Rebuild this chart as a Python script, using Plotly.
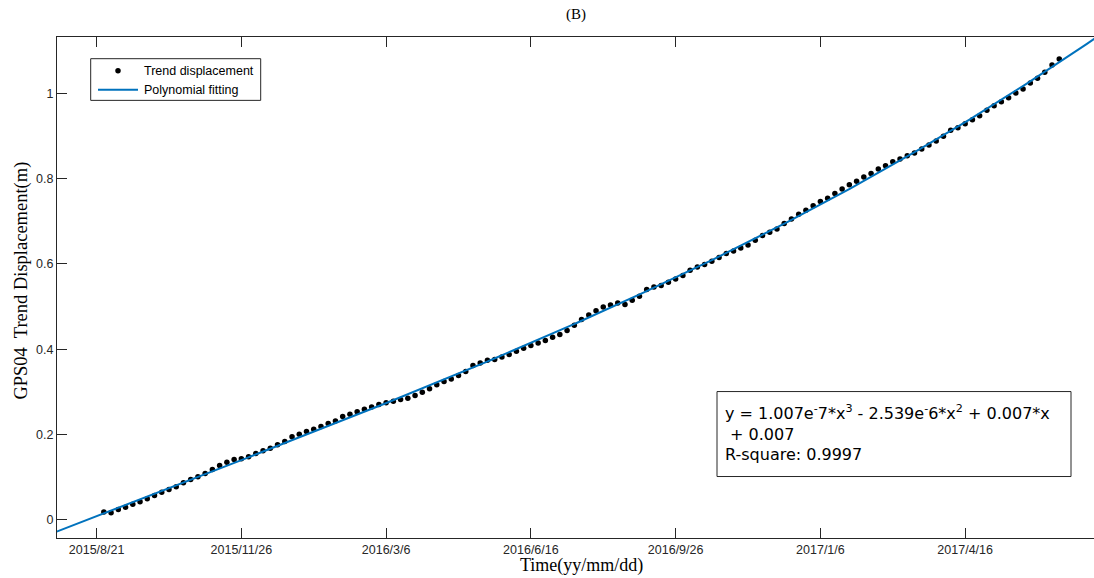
import numpy as np
import plotly.graph_objects as go

# Trend displacement of GPS04, one value per sample (about every 5 days)
sample_index = list(range(1, 134))
trend_displacement = [
    0.0187, 0.0168, 0.0246, 0.0300, 0.0367, 0.0425, 0.0496, 0.0574, 0.0652, 0.0714,
    0.0777, 0.0870, 0.0948, 0.1011, 0.1089, 0.1183, 0.1276, 0.1354, 0.1417, 0.1433,
    0.1479, 0.1557, 0.1620, 0.1682, 0.1760, 0.1838, 0.1948, 0.2006, 0.2076, 0.2127,
    0.2190, 0.2260, 0.2322, 0.2423, 0.2479, 0.2537, 0.2596, 0.2646, 0.2705, 0.2744,
    0.2783, 0.2822, 0.2853, 0.2916, 0.2994, 0.3072, 0.3166, 0.3244, 0.3306, 0.3384,
    0.3478, 0.3618, 0.3681, 0.3743, 0.3759, 0.3821, 0.3876, 0.3954, 0.4024, 0.4087,
    0.4149, 0.4208, 0.4282, 0.4344, 0.4438, 0.4563, 0.4696, 0.4800, 0.4900, 0.4992,
    0.5039, 0.5086, 0.5047, 0.5148, 0.5242, 0.5398, 0.5461, 0.5492, 0.5570, 0.5648,
    0.5726, 0.5851, 0.5929, 0.5984, 0.6062, 0.6148, 0.6241, 0.6304, 0.6374, 0.6444,
    0.6553, 0.6663, 0.6741, 0.6819, 0.6944, 0.7053, 0.7162, 0.7256, 0.7365, 0.7459,
    0.7537, 0.7650, 0.7756, 0.7857, 0.7935, 0.8037, 0.8115, 0.8224, 0.8302, 0.8396,
    0.8458, 0.8536, 0.8599, 0.8692, 0.8786, 0.8880, 0.8989, 0.9130, 0.9192, 0.9286,
    0.9379, 0.9473, 0.9598, 0.9707, 0.9801, 0.9895, 1.0004, 1.0098, 1.0238, 1.0348,
    1.0488, 1.0660, 1.0800,
]

# Date ticks, one every 20 samples
tick_index = [0, 20, 40, 60, 80, 100, 120]
tick_dates = ["2015/8/21", "2015/11/26", "2016/3/6", "2016/6/16",
              "2016/9/26", "2017/1/6", "2017/4/16"]

series_names = ["Trend displacement", "Polynomial fitting"]

equation_lines = [
    "y = 1.007e<sup>-</sup>7*x<sup>3</sup> - 2.539e<sup>-</sup>6*x<sup>2</sup> + 0.007*x",
    "\u00a0+ 0.007",
    "R-square: 0.9997",
]

AXIS = "#262626"
FIT_BLUE = "#0072BD"
SANS = "Liberation Sans, Arial, sans-serif"
SERIF = "Liberation Serif, Times New Roman, serif"

# Cubic polynomial fitted to the trend displacement
coef = np.polyfit(sample_index, trend_displacement, 3)
x_fit = np.linspace(-6, 139, 400)
y_fit = np.polyval(coef, x_fit)

fig = go.Figure()
fig.add_trace(go.Scatter(
    x=sample_index, y=trend_displacement, mode="markers",
    name=series_names[0], showlegend=False,
    marker=dict(color="black", size=5.5),
))
fig.add_trace(go.Scatter(
    x=x_fit, y=y_fit, mode="lines",
    name=series_names[1], showlegend=False,
    line=dict(color=FIT_BLUE, width=2),
))

W, H = 1094, 578
L, R, T, B = 57, 0, 37.3, 39.5
pw, ph = W - L - R, H - T - B


def px_x(px):
    return (px - L) / pw


def px_y(py):
    return (H - B - py) / ph


fig.update_layout(
    width=W, height=H,
    margin=dict(l=L, r=R, t=T, b=B, autoexpand=False),
    paper_bgcolor="white", plot_bgcolor="white",
    showlegend=False,
    xaxis=dict(
        range=[-5.47, 137.8],
        tickmode="array", tickvals=tick_index, ticktext=tick_dates,
        ticks="inside", ticklen=10, tickcolor=AXIS, tickwidth=1,
        showline=True, linecolor=AXIS, linewidth=1, mirror="ticks",
        showgrid=False, zeroline=False,
        tickfont=dict(family=SANS, size=12.5, color=AXIS),
    ),
    yaxis=dict(
        range=[-0.0422, 1.1316],
        tick0=0, dtick=0.2,
        ticks="inside", ticklen=10, tickcolor=AXIS, tickwidth=1,
        showline=True, linecolor=AXIS, linewidth=1, mirror=False,
        showgrid=False, zeroline=False,
        tickfont=dict(family=SANS, size=12.5, color=AXIS),
    ),
)

annotations = [
    dict(text="(B)", x=0.5, y=px_y(15), xref="paper", yref="paper",
         showarrow=False, xanchor="center", yanchor="middle",
         font=dict(family=SERIF, size=15, color="black")),
    dict(text="Time(yy/mm/dd)", x=px_x(581), y=px_y(566), xref="paper", yref="paper",
         showarrow=False, xanchor="center", yanchor="middle",
         font=dict(family=SERIF, size=18, color="black")),
    dict(text="GPS04  Trend Displacement(m)", x=px_x(21.5), y=px_y(281.5),
         xref="paper", yref="paper", textangle=-90,
         showarrow=False, xanchor="center", yanchor="middle",
         font=dict(family=SERIF, size=18.5, color="black")),
    # fit equation inside its box
    dict(text="<br>".join(equation_lines), x=px_x(722.7), y=px_y(433.5),
         xref="paper", yref="paper", showarrow=False,
         xanchor="left", yanchor="middle", align="left",
         font=dict(family="DejaVu Sans, sans-serif", size=16, color="black")),
]
# legend entries
for name, cy in zip(series_names, [71, 90]):
    annotations.append(dict(
        text=name, x=px_x(142), y=px_y(cy), xref="paper", yref="paper",
        showarrow=False, xanchor="left", yanchor="middle",
        font=dict(family=SANS, size=12.5, color="black"),
    ))
fig.update_layout(annotations=annotations)

# equation box
fig.add_shape(type="rect", xref="paper", yref="paper",
              x0=px_x(717), x1=px_x(1071), y0=px_y(477), y1=px_y(392),
              line=dict(color=AXIS, width=1), fillcolor="white", layer="below")
# legend box and symbols
fig.add_shape(type="rect", xref="paper", yref="paper",
              x0=px_x(90.7), x1=px_x(260.7), y0=px_y(100.7), y1=px_y(59),
              line=dict(color=AXIS, width=1), fillcolor="white", layer="above")
fig.add_shape(type="circle", xref="paper", yref="paper",
              xsizemode="pixel", ysizemode="pixel",
              xanchor=px_x(118), yanchor=px_y(71),
              x0=-2.75, x1=2.75, y0=-2.75, y1=2.75,
              line=dict(color="black", width=0), fillcolor="black", layer="above")
fig.add_shape(type="line", xref="paper", yref="paper",
              x0=px_x(98), x1=px_x(138), y0=px_y(90), y1=px_y(90),
              line=dict(color=FIT_BLUE, width=2), layer="above")

fig.write_html("out.html")
